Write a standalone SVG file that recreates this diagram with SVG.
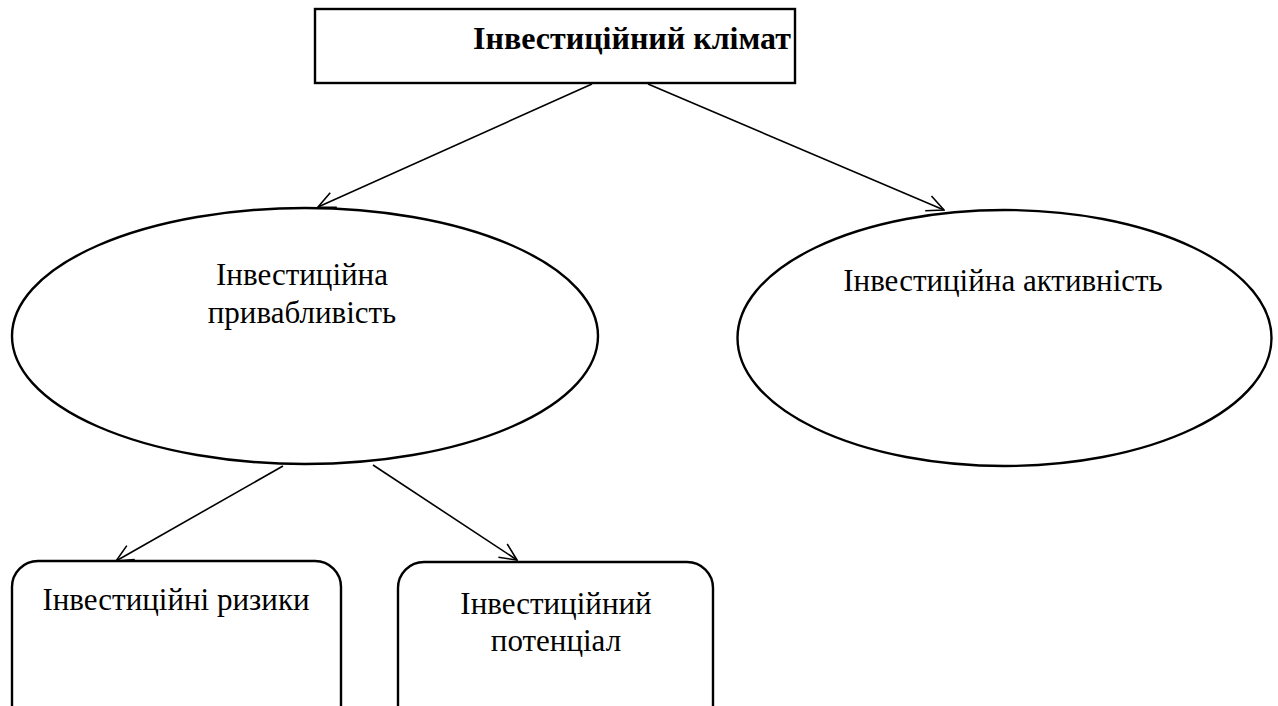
<svg xmlns="http://www.w3.org/2000/svg" width="1278" height="706" viewBox="0 0 1278 706">
<defs>
<style>
.shape{fill:#fff;stroke:#000;stroke-width:2.4}
.t{font-family:"Liberation Serif","Times New Roman","DejaVu Serif",serif;font-size:31px;fill:#000;text-anchor:middle}
.b{font-weight:bold;font-size:32px}
.c{fill:none;stroke:#000;stroke-width:1.6}
</style>
<marker id="ah" viewBox="0 0 20 20" refX="19" refY="10" markerWidth="20" markerHeight="20" markerUnits="userSpaceOnUse" orient="auto">
<path d="M2,2 L19,10 L2,18" fill="none" stroke="#000" stroke-width="1.6"/>
</marker>
</defs>
<rect width="1278" height="706" fill="#fff"/>
<g id="connectors">
<line class="c" x1="592" y1="84" x2="318" y2="207" marker-end="url(#ah)"/>
<line class="c" x1="648" y1="84" x2="944" y2="210" marker-end="url(#ah)"/>
<line class="c" x1="283" y1="466" x2="116" y2="561" marker-end="url(#ah)"/>
<line class="c" x1="373" y1="465" x2="517" y2="560" marker-end="url(#ah)"/>
</g>
<g id="n-climate">
<rect class="shape" x="315" y="9" width="480" height="74"/>
<text class="t b" x="632" y="49">Інвестиційний клімат</text>
</g>
<g id="n-attract">
<ellipse class="shape" cx="305" cy="336" rx="293" ry="128"/>
<text class="t" x="302" y="285">Інвестиційна</text>
<text class="t" x="302" y="323">привабливість</text>
</g>
<g id="n-activity">
<ellipse class="shape" cx="1004.5" cy="338" rx="267" ry="128"/>
<text class="t" x="1003" y="291">Інвестиційна активність</text>
</g>
<g id="n-risks">
<rect class="shape" x="12" y="561" width="329" height="170" rx="26"/>
<text class="t" x="176" y="610">Інвестиційні ризики</text>
</g>
<g id="n-potential">
<rect class="shape" x="398" y="562" width="315" height="170" rx="26"/>
<text class="t" x="556" y="614">Інвестиційний</text>
<text class="t" x="556" y="651">потенціал</text>
</g>
</svg>
